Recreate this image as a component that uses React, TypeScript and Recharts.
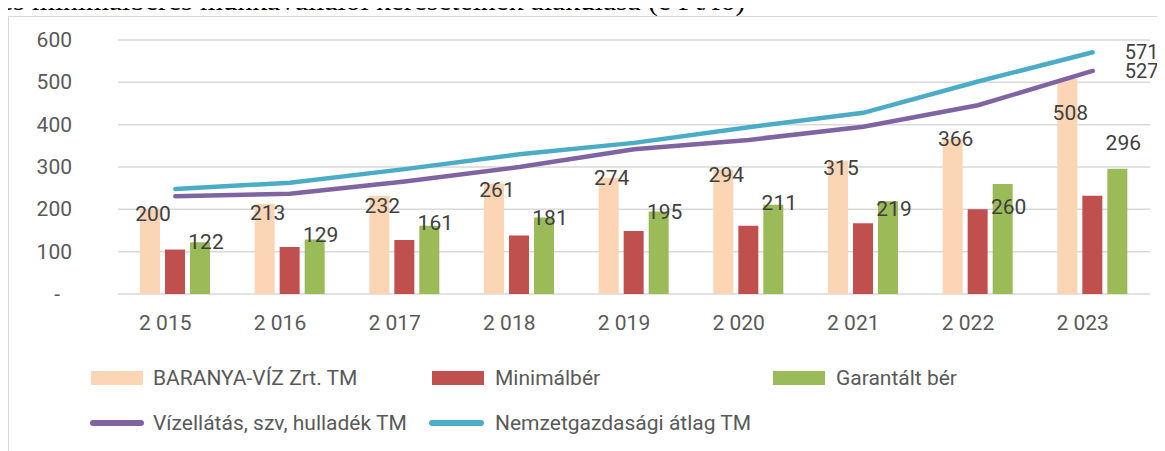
import React from 'react';
import {
  ComposedChart, Bar, Line, XAxis, YAxis, CartesianGrid, LabelList,
} from 'recharts';

const YEARS = ['2 015', '2 016', '2 017', '2 018', '2 019', '2 020', '2 021', '2 022', '2 023'];
const BARANYA = [200, 213, 232, 261, 274, 294, 315, 366, 508];
const MINIMALBER = [105, 111, 127.5, 138, 149, 161, 167, 200, 232];
const GARANTALT = [122, 129, 161, 181, 195, 211, 219, 260, 296];
const VIZELLATAS = [231, 237, 266, 300, 342, 364, 395, 446, 527];
const NEMZETGAZD = [248, 263, 295, 330, 357, 394, 428, 502, 571];
const Y_TICKS = [0, 100, 200, 300, 400, 500, 600];

const PEACH = '#FCD5B5';
const RED = '#C0504D';
const GREEN = '#9BBB59';
const PURPLE = '#8064A2';
const BLUE = '#4BACC6';
const GRID = '#D9D9D9';
const AXIS_TXT = '#595959';
const LABEL_TXT = '#404040';
const FONT = 'Roboto, "Open Sans", sans-serif';

// manual nudges of the data labels (Excel labels were dragged around)
const PEACH_DY = [5, 9, 10, 6, 0, 5, 7, 0, 34];
const GREEN_DY = [0, -4, -3, 1, 1, -2, 8, 23, -26];

const data = YEARS.map((year, i) => ({
  year,
  baranya: BARANYA[i],
  minimal: MINIMALBER[i],
  garantalt: GARANTALT[i],
  viz: VIZELLATAS[i],
  nemzet: NEMZETGAZD[i],
}));

const barLabel = (nudge: number[], dx: number) => (props: any) => {
  const { x, y, width, index, value } = props;
  return (
    <text
      x={Number(x) + Number(width) / 2 + dx}
      y={Number(y) + nudge[index]}
      textAnchor="middle"
      dominantBaseline="central"
      fontSize={21}
      fontFamily={FONT}
      fill={LABEL_TXT}
    >
      {value}
    </text>
  );
};

const endLabel = (props: any) => {
  const { x, y, index, value } = props;
  if (index !== YEARS.length - 1) return null;
  return (
    <text x={Number(x) + 32} y={Number(y)} dominantBaseline="central" fontSize={20} fontFamily={FONT} fill={LABEL_TXT}>
      {value}
    </text>
  );
};

const YTick = (props: any) => {
  const { x, y, payload } = props;
  const zero = payload.value === 0;
  return (
    <text x={x - (zero ? 12 : 0)} y={y} textAnchor="end" dominantBaseline="central" fontSize={21} fontFamily={FONT} fill={AXIS_TXT}>
      {zero ? '-' : payload.value}
    </text>
  );
};

const XTick = (props: any) => {
  const { x, y, payload } = props;
  return (
    <text x={x - 10} y={y} textAnchor="middle" dominantBaseline="central" fontSize={21} fontFamily={FONT} fill={AXIS_TXT}>
      {payload.value}
    </text>
  );
};

const legendText: React.CSSProperties = {
  position: 'absolute', fontFamily: FONT, fontSize: 21, color: AXIS_TXT, lineHeight: '24px', whiteSpace: 'nowrap',
};

function ChartLegend() {
  const row1 = 378;
  const row2 = 423;
  return (
    <>
      <div style={{ position: 'absolute', left: 91, top: row1 - 7, width: 52, height: 14, background: PEACH }} />
      <div style={{ ...legendText, left: 153, top: row1 - 12 }}>BARANYA-VÍZ Zrt. TM</div>
      <div style={{ position: 'absolute', left: 432, top: row1 - 7, width: 52, height: 14, background: RED }} />
      <div style={{ ...legendText, left: 495, top: row1 - 12 }}>Minimálbér</div>
      <div style={{ position: 'absolute', left: 773, top: row1 - 7, width: 52, height: 14, background: GREEN }} />
      <div style={{ ...legendText, left: 836, top: row1 - 12 }}>Garantált bér</div>

      <div style={{ position: 'absolute', left: 90, top: row2 - 3, width: 54, height: 6, borderRadius: 3, background: PURPLE }} />
      <div style={{ ...legendText, left: 153, top: row2 - 12 }}>Vízellátás, szv, hulladék TM</div>
      <div style={{ position: 'absolute', left: 429, top: row2 - 3, width: 55, height: 6, borderRadius: 3, background: BLUE }} />
      <div style={{ ...legendText, left: 495, top: row2 - 12 }}>Nemzetgazdasági átlag TM</div>
    </>
  );
}

export default function App() {
  return (
    <div style={{ position: 'relative', width: 1165, height: 451, margin: '-8px 0 0 -8px', overflow: 'hidden', background: '#fff' }}>
      <div style={{
        position: 'absolute', left: 0, top: -14, fontFamily: '"Liberation Serif", serif', fontSize: 29.5,
        lineHeight: 1, whiteSpace: 'nowrap', color: '#000',
      }}>
        és minimálbéres munkavállalói kereseteinek alakulása (e Ft/fő)
      </div>
      <div style={{ position: 'absolute', left: 8, top: 16, width: 1200, height: 500, border: `1.5px solid ${GRID}` }} />
      <div style={{ position: 'absolute', left: 0, top: 0 }}>
        <ComposedChart width={1165} height={451} data={data} margin={{ top: 40, right: 15, left: 0, bottom: 0 }} barSize={20} barGap={5}>
          <CartesianGrid vertical={false} stroke={GRID} strokeWidth={1.5} />
          <XAxis dataKey="year" axisLine={false} tickLine={false} height={157} tick={<XTick />} tickMargin={23} interval={0} />
          <YAxis domain={[0, 600]} ticks={Y_TICKS} axisLine={false} tickLine={false} width={118} tickMargin={40} tick={<YTick />} />
          <Bar dataKey="baranya" fill={PEACH} isAnimationActive={false}>
            <LabelList dataKey="baranya" content={barLabel(PEACH_DY, 3)} />
          </Bar>
          <Bar dataKey="minimal" fill={RED} isAnimationActive={false} />
          <Bar dataKey="garantalt" fill={GREEN} isAnimationActive={false}>
            <LabelList dataKey="garantalt" content={barLabel(GREEN_DY, 6)} />
          </Bar>
          <Line type="linear" dataKey="viz" stroke={PURPLE} strokeWidth={4.5} strokeLinecap="round" dot={false} isAnimationActive={false}>
            <LabelList dataKey="viz" content={endLabel} />
          </Line>
          <Line type="linear" dataKey="nemzet" stroke={BLUE} strokeWidth={4.5} strokeLinecap="round" dot={false} isAnimationActive={false}>
            <LabelList dataKey="nemzet" content={endLabel} />
          </Line>
        </ComposedChart>
      </div>
      <ChartLegend />
    </div>
  );
}
